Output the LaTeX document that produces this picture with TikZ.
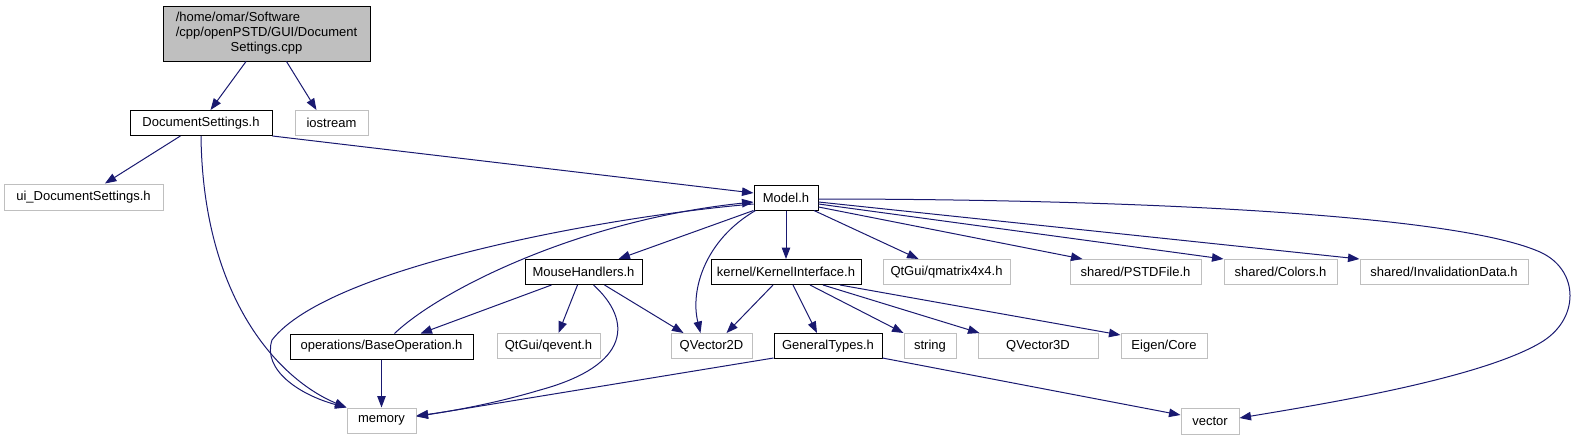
\documentclass[tikz,border=0pt]{standalone}
\usepackage{fontspec}
\setmainfont{Liberation Sans}
\usetikzlibrary{arrows.meta}
\definecolor{edgeblue}{HTML}{191970}
\definecolor{boxgray}{HTML}{BFBFBF}
\begin{document}
\begin{tikzpicture}[x=1pt,y=-1pt,
  base/.style={line width=1pt, inner sep=0pt, font=\fontsize{13}{15}\selectfont, minimum height=25pt},
  nb/.style={base, draw=black},
  gb/.style={base, draw=boxgray},
  rootbox/.style={base, draw=black, fill=boxgray},
  dep/.style={draw=edgeblue, line width=1pt, -{Triangle[length=11.5pt,width=8.5pt]}}]
\useasboundingbox (0,0) rectangle (1573,440);
% nodes
\node[rootbox, minimum width=207pt, minimum height=55pt] (root) at (266.5,33.5)
  {\begin{tabular}{@{}l@{}}/home/omar/Software\\/cpp/openPSTD/GUI/Document\\\multicolumn{1}{@{}c@{}}{Settings.cpp}\end{tabular}};
\node[nb, minimum width=142pt] (ds) at (201,123) {DocumentSettings.h};
\node[gb, minimum width=73pt] (iostream) at (331.5,123) {iostream};
\node[gb, minimum width=159pt, minimum height=26pt] (ui) at (83.5,197) {ui\_DocumentSettings.h};
\node[nb, minimum width=64pt] (model) at (786,197.5) {Model.h};
\node[nb, minimum width=117pt] (mouse) at (583.5,272) {MouseHandlers.h};
\node[nb, minimum width=150pt] (kernel) at (786,272) {kernel/KernelInterface.h};
\node[gb, minimum width=127pt] (qmatrix) at (946.5,272) {QtGui/qmatrix4x4.h};
\node[gb, minimum width=131pt] (pstd) at (1135.5,272) {shared/PSTDFile.h};
\node[gb, minimum width=113pt] (colors) at (1280.5,272) {shared/Colors.h};
\node[gb, minimum width=168pt] (inval) at (1444,272) {shared/InvalidationData.h};
\node[nb, minimum width=183pt] (baseop) at (381.5,346.5) {operations/BaseOperation.h};
\node[gb, minimum width=103pt] (qevent) at (548.5,346) {QtGui/qevent.h};
\node[gb, minimum width=81pt] (qv2d) at (711.5,346) {QVector2D};
\node[nb, minimum width=108pt] (general) at (828,346) {GeneralTypes.h};
\node[gb, minimum width=52pt] (string) at (930,346) {string};
\node[gb, minimum width=120pt] (qv3d) at (1038,346) {QVector3D};
\node[gb, minimum width=86pt] (eigen) at (1164,346) {Eigen/Core};
\node[gb, minimum width=69pt] (memory) at (381.5,420.5) {memory};
\node[gb, minimum width=58pt, minimum height=26pt] (vector) at (1210,421) {vector};
% edges
\draw[dep] (root) -- (ds);
\draw[dep] ([xshift=20pt]root.south) -- ([xshift=-15pt]iostream.north);
\draw[dep] (ds) -- (ui);
\draw[dep] (ds.south) .. controls (203,300) and (280,380) .. (memory.north west);
\draw[dep] (ds.south east) -- ([yshift=4.5pt]model.west);
\draw[dep] (model.south west) -- ([xshift=-24pt]mouse.north east);
\draw[dep] ([xshift=2pt]model.south west) .. controls (705,240) and (690,290) .. ([xshift=-11pt]qv2d.north);
\draw[dep] (model.south) -- (kernel.north);
\draw[dep] (model) -- (qmatrix);
\draw[dep] ([yshift=-9.5pt]model.east) -- ([xshift=13pt]pstd.north west);
\draw[dep] ([yshift=-6.5pt]model.east) -- (colors.north west);
\draw[dep] ([yshift=-4.5pt]model.east) -- (inval.north west);
\draw[dep] ([yshift=-1.5pt]model.east) .. controls (1100,199) and (1450,212) .. (1540,252)
  .. controls (1580,270) and (1580,320) .. (1540,343)
  .. controls (1480,378) and (1330,403) .. ([yshift=3pt]vector.east);
\draw[dep] ([yshift=-6.5pt]model.west) .. controls (620,215) and (330,265) .. (272,340)
  .. controls (262,370) and (300,395) .. (memory.north west);
\draw[dep] ([xshift=13pt]baseop.north) .. controls (440,290) and (580,220) .. ([yshift=-4.5pt]model.west);
\draw[dep] ([xshift=-32pt]mouse.south) -- ([xshift=39pt]baseop.north);
\draw[dep] ([xshift=-6pt]mouse.south) -- ([xshift=10pt]qevent.north);
\draw[dep] ([xshift=21pt]mouse.south) -- ([xshift=-28pt]qv2d.north);
\draw[dep] ([xshift=10pt]mouse.south) .. controls (632,320) and (632,365) .. (540,390)
  .. controls (490,405) and (440,413) .. ([yshift=5pt]memory.east);
\draw[dep] (baseop.south) -- (memory.north);
\draw[dep] ([xshift=-13pt]kernel.south) -- ([xshift=15pt]qv2d.north);
\draw[dep] ([xshift=7pt]kernel.south) -- ([xshift=-11pt]general.north);
\draw[dep] ([xshift=24pt]kernel.south) -- (string.north west);
\draw[dep] ([xshift=37pt]kernel.south) -- ([xshift=2pt]qv3d.north west);
\draw[dep] ([xshift=54pt]kernel.south) -- ([yshift=-2pt]eigen.north west);
\draw[dep] ([yshift=1pt]general.south west) -- ([yshift=4pt]memory.east);
\draw[dep] ([yshift=1pt]general.south east) -- ([yshift=6pt]vector.west);
\end{tikzpicture}
\end{document}
